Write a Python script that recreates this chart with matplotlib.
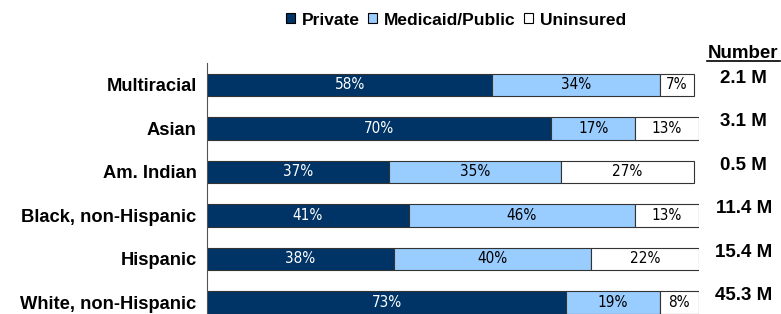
import matplotlib.pyplot as plt
import numpy as np
from matplotlib.patches import Patch

plt.rcParams['font.family'] = ['Liberation Sans', 'DejaVu Sans']

groups = ['Multiracial', 'Asian', 'Am. Indian', 'Black, non-Hispanic', 'Hispanic', 'White, non-Hispanic']
private = [58, 70, 37, 41, 38, 73]
medicaid = [34, 17, 35, 46, 40, 19]
uninsured = [7, 13, 27, 13, 22, 8]
numbers = ['2.1 M', '3.1 M', '0.5 M', '11.4 M', '15.4 M', '45.3 M']

series = [('Private', private, '#003366', 'white'),
          ('Medicaid/Public', medicaid, '#99CCFF', 'black'),
          ('Uninsured', uninsured, '#FFFFFF', 'black')]

fig = plt.figure(figsize=(7.81, 3.14), dpi=100)
ax = fig.add_axes([0.265, -0.0326, 0.630, 0.8312])

y = np.arange(len(groups))
left = np.zeros(len(groups))
handles = []
for name, vals, color, tcolor in series:
    vals = np.array(vals, dtype=float)
    ax.barh(y, vals, left=left, height=0.51, color=color, edgecolor='#333333', linewidth=0.8)
    for yi, l, v in zip(y, left, vals):
        ax.text(l + v / 2, yi, '%d%%' % v, ha='center', va='center', color=tcolor,
                fontsize=11, family='DejaVu Sans', fontstretch='condensed')
    left += vals
    handles.append(Patch(facecolor=color, edgecolor='black', linewidth=0.8, label=name))

ax.set_xlim(0, 100)
ax.set_ylim(len(groups) - 0.5, -0.5)
ax.set_yticks(y)
ax.set_yticklabels(groups, fontsize=13.2, fontweight='bold')
ax.tick_params(axis='y', length=0, pad=7.5)
ax.set_xticks([])
for s in ['top', 'right', 'bottom']:
    ax.spines[s].set_visible(False)
ax.spines['left'].set_color('#555555')

# right-hand numbers
for yi, n in zip(y, numbers):
    ax.text(109.1, yi - 0.15, n, ha='center', va='center', fontsize=13.5, fontweight='bold',
            clip_on=False)
fig.text(0.951, 0.829, 'Number', ha='center', va='center', fontsize=13.5, fontweight='bold')
fig.add_artist(plt.Line2D([0.905, 0.999], [0.806, 0.806], color='black', linewidth=1.2))

fig.legend(handles=handles, loc='center', bbox_to_anchor=(0.584, 0.936), ncol=3, frameon=False,
           prop={'weight': 'bold', 'size': 12.5}, handlelength=0.5, handleheight=0.5,
           handletextpad=0.4, columnspacing=0.5)

fig.savefig('out.png', dpi=100)
